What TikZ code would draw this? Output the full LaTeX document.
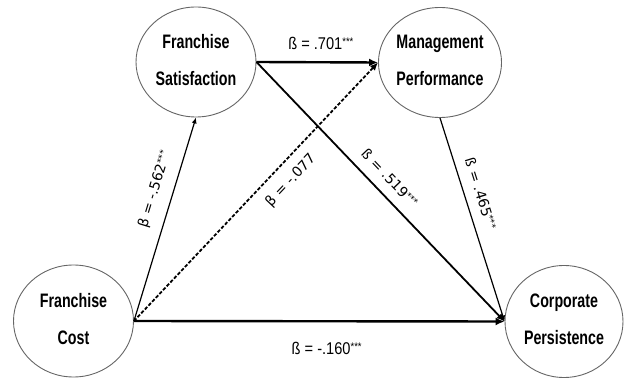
\documentclass[tikz,border=0pt]{standalone}
\usepackage{fontspec}
\setmainfont{Liberation Sans}
\newfontfamily\nodefont{Liberation Sans}[FakeStretch=0.73]
\newfontfamily\labfont{Liberation Sans}[FakeStretch=0.86]
\newfontfamily\rotfont{DejaVu Sans}
\usetikzlibrary{arrows.meta,shapes.geometric}
\newcommand{\labstars}{\raisebox{4pt}{\fontsize{11}{11}\selectfont ***}}
\newcommand{\rotstars}{\raisebox{3.5pt}{\fontsize{9}{9}\selectfont ***}}
\begin{document}
\begin{tikzpicture}[x=1pt,y=-1pt,
  var/.style={ellipse,draw=black!60,line width=0.9pt,fill=white,inner sep=0pt,
    minimum width=120pt,minimum height=110pt,align=center,text depth=5pt,
    font=\nodefont\bfseries\fontsize{19.5}{37}\selectfont},
  bigarrow/.style={line width=2.4pt,-{Latex[length=9pt,width=8pt]}},
  midarrow/.style={line width=1.8pt,-{Latex[length=8pt,width=7pt]}},
  thinarrow/.style={line width=1.2pt,-{Latex[length=6pt,width=5pt]}},
  dasharrow/.style={line width=1.8pt,dash pattern=on 3.5pt off 1.8pt,-{Latex[length=8pt,width=7pt]}},
  uplab/.style={font=\labfont\fontsize{17}{17}\selectfont,inner sep=0pt},
  rotlab/.style={font=\rotfont\fontsize{14}{14}\selectfont,inner xsep=0pt,sloped}
]
\useasboundingbox (0,0) rectangle (624,379);
\node[var] (fs) at (196,62) {Franchise\\Satisfaction};
\node[var] (mp) at (440,62.5) {Management\\Performance};
\node[var,minimum height=112pt] (fc) at (73.5,321) {Franchise\\Cost};
\node[var,minimum width=118pt,minimum height=112pt] (cp) at (564,321.5) {Corporate\\Persistence};

\draw[bigarrow] (fs.east) -- (mp.west)
  node[uplab,pos=0.53,above=11pt] {ß = .701\labstars};
\draw[bigarrow] (fc.east) -- (cp.west)
  node[uplab,pos=0.52,below=20pt] {ß = -.160\labstars};
\draw[thinarrow] (fc.east) -- (fs.south)
  node[rotlab,pos=0.62,above,inner ysep=11pt] {β = -.562\rotstars};
\draw[dasharrow] (fc.east) -- (mp.west)
  node[rotlab,pos=0.59,below,inner ysep=10pt] {β = -.077};
\draw[midarrow] (fs.east) -- (cp.west)
  node[rotlab,pos=0.49,above,inner ysep=10pt] {ß = .519\rotstars};
\draw[thinarrow] (mp.south) -- (cp.west)
  node[rotlab,pos=0.395,above,inner ysep=10pt] {ß = .465\rotstars};
\end{tikzpicture}
\end{document}
